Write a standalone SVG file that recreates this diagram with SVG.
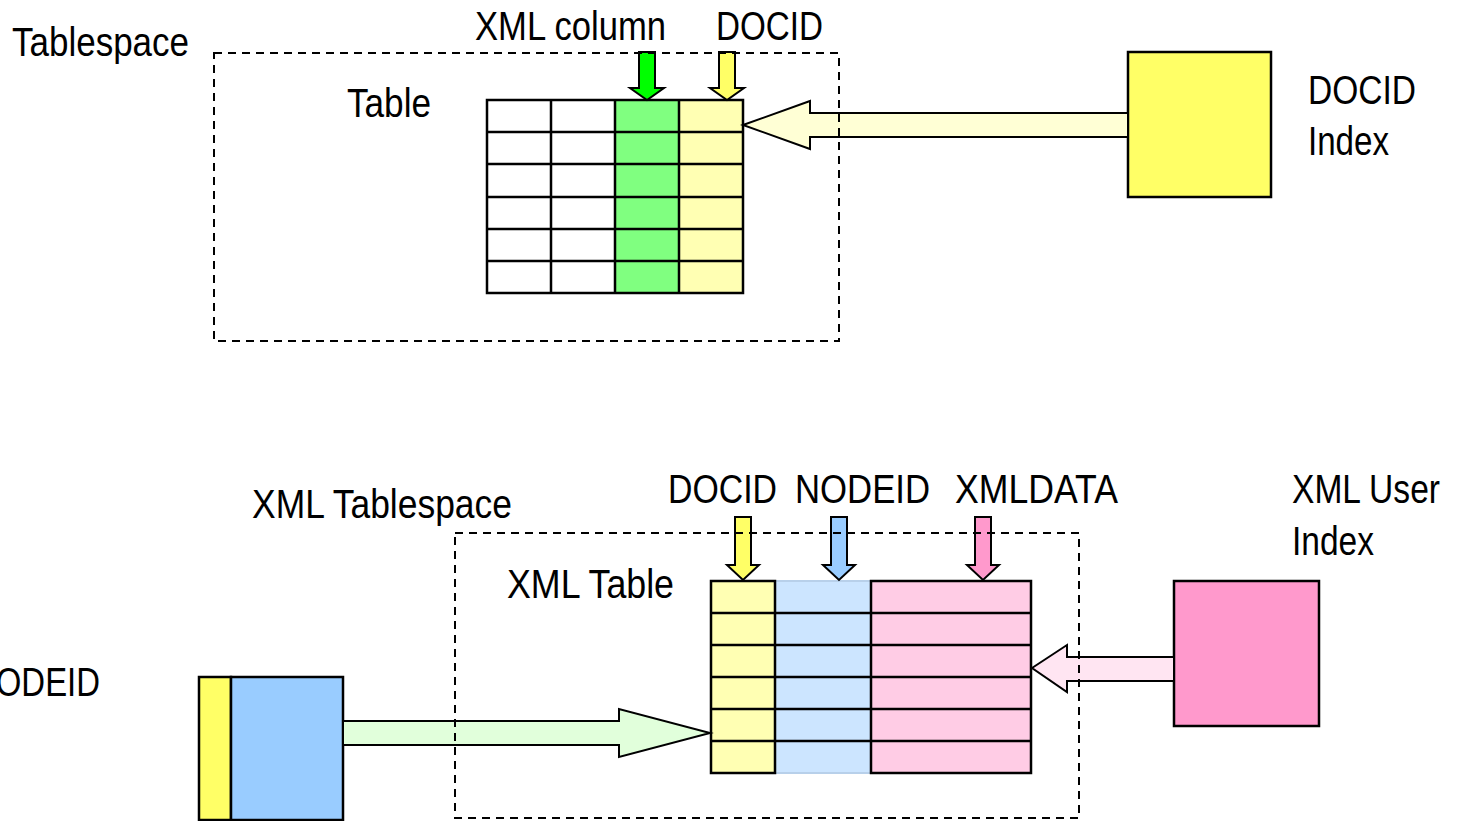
<svg xmlns="http://www.w3.org/2000/svg" width="1462" height="821" viewBox="0 0 1462 821">
<style>
text{font-family:"Liberation Sans",Arial,sans-serif;font-size:40px;fill:#000}
.ln{stroke:#000;stroke-width:2.5}
path.ln{fill:none}
.ar{stroke:#000;stroke-width:2;stroke-linejoin:miter}
.dash{fill:none;stroke:#000;stroke-width:2;stroke-dasharray:8 6}
</style>
<rect width="1462" height="821" fill="#fff"/>

<g id="tablespace-label"><text x="12" y="56" textLength="177" lengthAdjust="spacingAndGlyphs">Tablespace</text></g>

<g id="table">
<text x="347" y="117" textLength="84" lengthAdjust="spacingAndGlyphs">Table</text>
<rect x="487" y="100" width="128" height="193" fill="#fff"/>
<rect x="615" y="100" width="64" height="193" fill="#80FF80"/>
<rect x="679" y="100" width="64" height="193" fill="#FFFFB3"/>
<path class="ln" d="M487 100H743V293H487Z M551 100V293 M615 100V293 M679 100V293 M487 132H743 M487 164H743 M487 197H743 M487 229H743 M487 261H743"/>
</g>

<g id="xml-column-label">
<text x="475" y="40" textLength="191" lengthAdjust="spacingAndGlyphs">XML column</text>
<polygon class="ar" fill="#00FF00" points="639,52 655,52 655,88 664,88 647,100 630,88 639,88"/>
</g>
<g id="docid-label">
<text x="716" y="40" textLength="107" lengthAdjust="spacingAndGlyphs">DOCID</text>
<polygon class="ar" fill="#FFFF66" points="719,52 735,52 735,88 744,88 727,100 710,88 719,88"/>
</g>

<g id="docid-index">
<rect x="1128" y="52" width="143" height="145" fill="#FFFF66" class="ln"/>
<text x="1308" y="104" textLength="108" lengthAdjust="spacingAndGlyphs">DOCID</text>
<text x="1308" y="155" textLength="81" lengthAdjust="spacingAndGlyphs">Index</text>
</g>

<g id="xml-tablespace-label"><text x="252" y="518" textLength="260" lengthAdjust="spacingAndGlyphs">XML Tablespace</text></g>

<g id="xml-table">
<text x="507" y="598" textLength="167" lengthAdjust="spacingAndGlyphs">XML Table</text>
<rect x="711" y="581" width="64" height="192" fill="#FFFFB3"/>
<rect x="775" y="581" width="96" height="192" fill="#CCE5FF" stroke="#B8D0EA" stroke-width="2"/>
<rect x="871" y="581" width="160" height="192" fill="#FFCCE5"/>
<path class="ln" d="M711 581H775V773H711Z M871 581H1031V773H871Z M711 613H1031 M711 645H1031 M711 677H1031 M711 709H1031 M711 741H1031"/>
</g>

<g id="col-labels">
<text x="668" y="503" textLength="109" lengthAdjust="spacingAndGlyphs">DOCID</text>
<text x="795" y="503" textLength="135" lengthAdjust="spacingAndGlyphs">NODEID</text>
<text x="955" y="503" textLength="163" lengthAdjust="spacingAndGlyphs">XMLDATA</text>
<polygon class="ar" fill="#FFFF66" points="735,517 751,517 751,565 759,565 743,580 727,565 735,565"/>
<polygon class="ar" fill="#99CCFF" points="831,517 847,517 847,565 855,565 839,580 823,565 831,565"/>
<polygon class="ar" fill="#FF99CC" points="975,517 991,517 991,565 999,565 983,580 967,565 975,565"/>
</g>

<g id="xml-user-index">
<rect x="1174" y="581" width="145" height="145" fill="#FF99CC" class="ln"/>
<text x="1292" y="503" textLength="148" lengthAdjust="spacingAndGlyphs">XML User</text>
<text x="1292" y="555" textLength="82" lengthAdjust="spacingAndGlyphs">Index</text>
</g>

<g id="nodeid-index">
<rect x="199" y="677" width="32" height="143" fill="#FFFF66" class="ln"/>
<rect x="231" y="677" width="112" height="143" fill="#99CCFF" class="ln"/>
<text x="-28" y="696" textLength="128" lengthAdjust="spacingAndGlyphs">NODEID</text>
</g>

<g id="connectors">
<polygon class="ar" fill="#FFFFD5" points="743,125 810,101 810,113 1128,113 1128,137 810,137 810,149"/>
<polygon class="ar" fill="#E1FFDB" points="343,721 619,721 619,709 710,733 619,757 619,745 343,745"/>
<polygon class="ar" fill="#FFE5F2" points="1032,668 1067,645 1067,657 1174,657 1174,681 1067,681 1067,692"/>
</g>

<g id="tablespaces">
<rect class="dash" x="214" y="53" width="625" height="288"/>
<rect class="dash" x="455" y="533" width="624" height="285"/>
</g>
</svg>
